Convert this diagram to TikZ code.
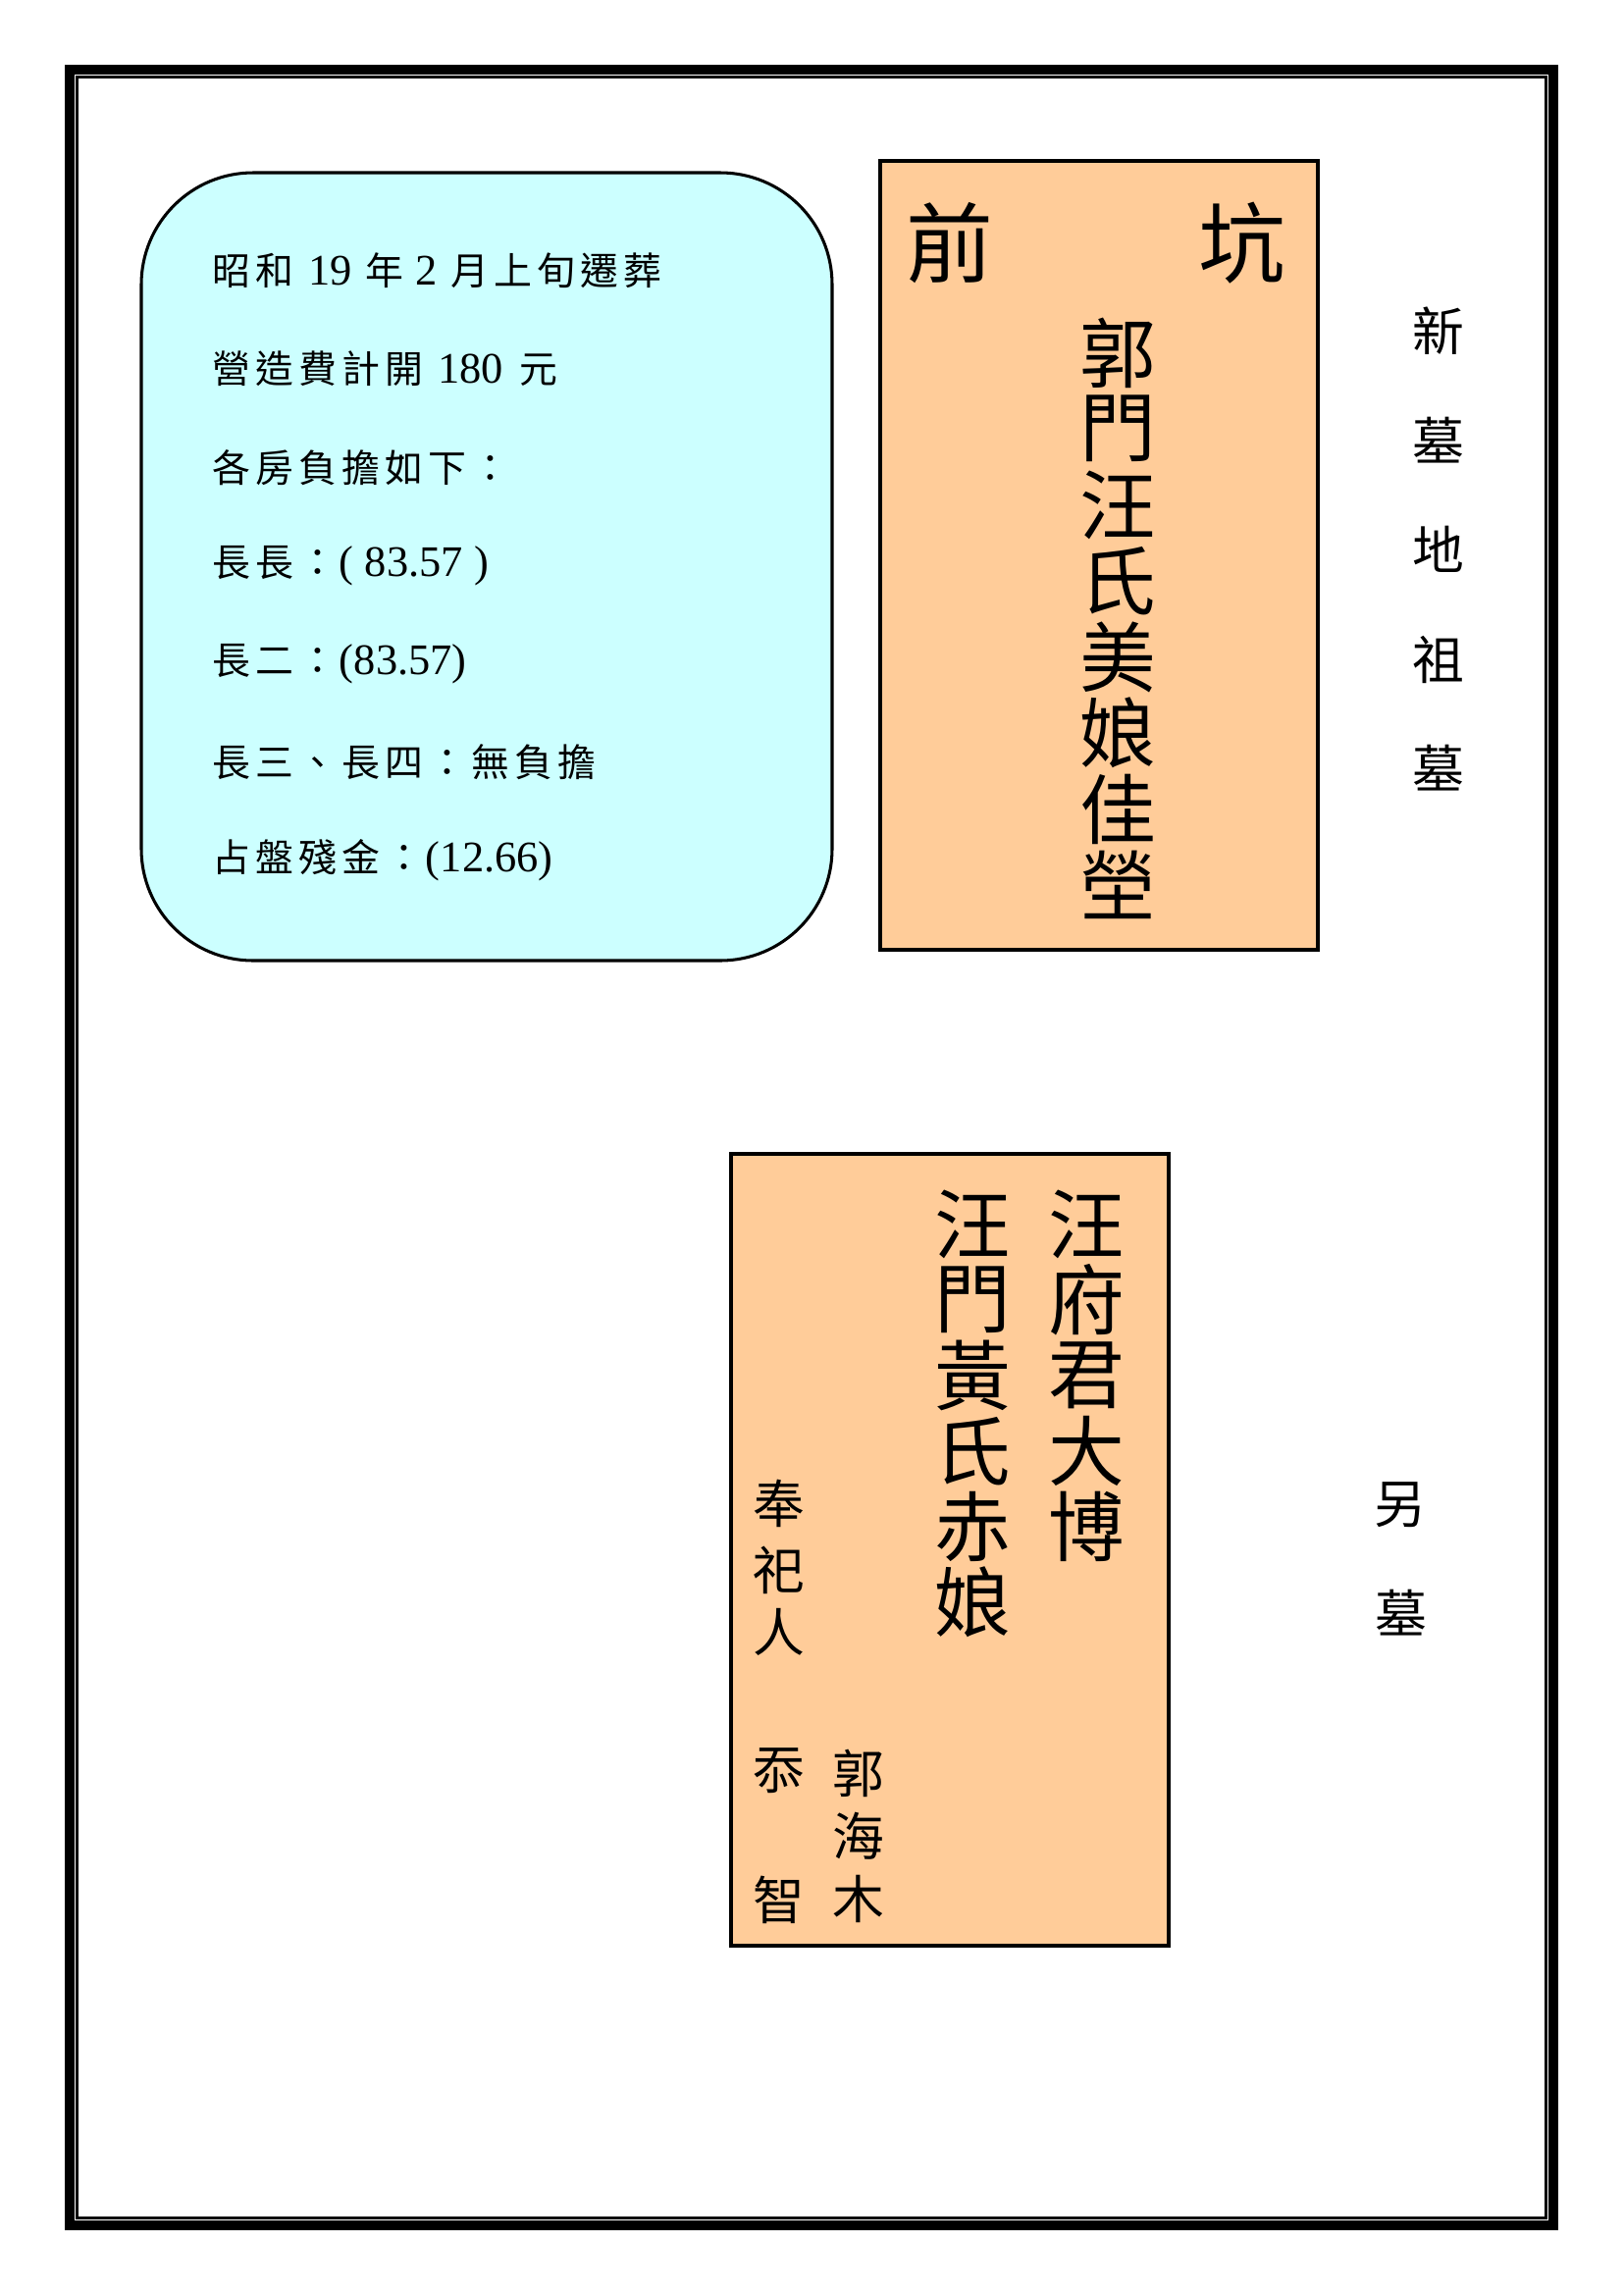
\documentclass[tikz,border=0pt]{standalone}
\usepackage{fontspec}
\setmainfont{Liberation Serif}
\newfontfamily\cjk{Noto Sans CJK TC}
\newlength\cpitch
\setlength\cpitch{15.84pt}
\makeatletter
% set each CJK character in a box of fixed pitch
\def\cj#1{{\cjk\fontsize{14pt}{16pt}\selectfont\cj@loop#1\relax}}
\def\cj@loop#1{\ifx\relax#1\else\makebox[\cpitch]{#1}\expandafter\cj@loop\fi}
\makeatother
\definecolor{infofill}{HTML}{CCFFFF}
\definecolor{tabletfill}{HTML}{FFCC99}
\begin{document}
\begin{tikzpicture}[x=0.36pt,y=-0.36pt,
  every node/.style={inner sep=0pt,outer sep=0pt},
  panel/.style={draw=black,line width=1.1pt},
  infotext/.style={anchor=west,font=\fontsize{16pt}{18pt}\selectfont},
  bigchar/.style={font=\cjk\fontsize{32pt}{36pt}\selectfont},
  colchar/.style={font=\cjk\fontsize{28pt}{30pt}\selectfont},
  midchar/.style={font=\cjk\fontsize{19pt}{21pt}\selectfont}]

% page and double frame
\fill[white] (0,0) rectangle (1654,2339);
\draw[line width=3.6pt] (71,71) rectangle (1583,2268);
\draw[line width=1.2pt] (78.5,78.5) rectangle (1575.5,2260.5);

% expense note
\draw[panel,fill=infofill,rounded corners=41pt] (144,176) rectangle (848,979);
\node[infotext] (l1) at (214,276) {\cj{昭和}\hspace{4.5pt}19\hspace{4pt}\cj{年}\hspace{3.5pt}2\hspace{4pt}\cj{月上旬遷葬}};
\node[infotext] (l2) at (214,376) {\cj{營造費計開}\hspace{4.5pt}180\hspace{5pt}\cj{元}};
\node[infotext] (l3) at (214,477) {\cj{各房負擔如下：}};
\node[infotext] (l4) at (214,577) {\cj{長長：}(\hspace{4pt}83.57\hspace{4pt})};
\node[infotext] (l5) at (214,677) {\cj{長二：}(83.57)};
\node[infotext] (l6) at (214,777) {\cj{長三、長四：無負擔}};
\node[infotext] (l7) at (214,877) {\cj{占盤殘金：}(12.66)};

% upper tablet
\draw[panel,fill=tabletfill] (897,164) rectangle (1343,968);
\node[bigchar] (qian) at (968,248) {前};
\node[bigchar] (keng) at (1266,248) {坑};
\foreach \c [count=\i from 0] in {郭,門,汪,氏,美,娘,佳,塋}
  \node[colchar] (m\i) at (1139,{359.5+77.5*\i}) {\c};

% right-hand label
\foreach \c/\yy [count=\i] in {新/337,墓/449,地/560,祖/672,墓/783}
  \node[midchar] (r\i) at (1466,\yy) {\c};

% lower tablet
\draw[panel,fill=tabletfill] (745,1176) rectangle (1191,1983);
\foreach \c [count=\i from 0] in {汪,府,君,大,博}
  \node[colchar] (a\i) at (1107,{1248+77*\i}) {\c};
\foreach \c [count=\i from 0] in {汪,門,黃,氏,赤,娘}
  \node[colchar] (b\i) at (991,{1248+77*\i}) {\c};
\foreach \c/\yy [count=\i] in {奉/1532,祀/1600,人/1663,忝/1805,智/1936}
  \node[midchar] (c\i) at (794,\yy) {\c};
\foreach \c/\yy [count=\i] in {郭/1807,海/1871,木/1935}
  \node[midchar] (d\i) at (875,\yy) {\c};

% second grave label
\node[midchar] (ling) at (1427,1534) {另};
\node[midchar] (mu) at (1428,1644) {墓};
\end{tikzpicture}
\end{document}
